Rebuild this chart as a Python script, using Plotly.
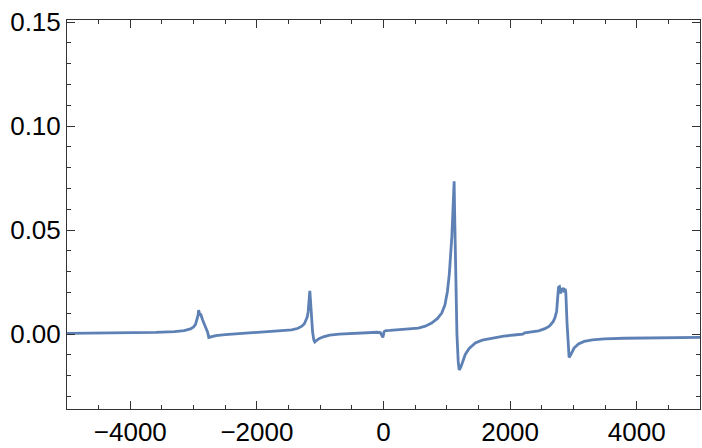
import plotly.graph_objects as go

# Curve samples
x_vals = [-5000, -4500, -4000, -3600, -3300, -3150, -3050, -3000, -2970, -2945, -2930, -2920,
          -2910, -2900, -2890, -2880, -2860, -2840, -2800, -2780, -2760, -2720, -2650, -2500,
          -2200, -1900, -1600, -1450, -1350, -1290, -1250, -1225, -1205, -1190, -1178, -1170,
          -1164, -1155, -1140, -1120, -1100, -1085, -1060, -1020, -950, -850, -700, -500,
          -300, -100, -50, -25, -10, 10, 40, 100, 250, 400, 550, 660, 760, 850, 920, 970,
          1010, 1040, 1060, 1080, 1095, 1108, 1116, 1124, 1140, 1160, 1180, 1195, 1220,
          1260, 1290, 1350, 1450, 1560, 1710, 1900, 2100, 2200, 2230, 2350, 2450, 2550, 2620,
          2680, 2710, 2735, 2752, 2765, 2780, 2800, 2815, 2830, 2845, 2860, 2870, 2880, 2900,
          2918, 2932, 2960, 3010, 3080, 3170, 3300, 3490, 3800, 4200, 4600, 5000]
y_vals = [0.0004, 0.0005, 0.0006, 0.0008, 0.0012, 0.0017, 0.0025, 0.0034, 0.0047, 0.0068, 0.0090, 0.0115,
          0.0100, 0.0090, 0.0098, 0.0085, 0.0070, 0.0055, 0.0030, 0.0010, -0.0016, -0.0012, -0.0007, -0.0002,
          0.0004, 0.0009, 0.0015, 0.0020, 0.0028, 0.0038, 0.0050, 0.0064, 0.0082, 0.0108, 0.0150, 0.0185,
          0.0208, 0.0170, 0.0080, 0.0010, -0.0030, -0.0038, -0.0031, -0.0022, -0.0013, -0.0005, 0.0000, 0.0004,
          0.0007, 0.0009, 0.0007, -0.0012, -0.0016, 0.0012, 0.0017, 0.0018, 0.0021, 0.0024, 0.0029, 0.0038, 0.0053, 0.0074, 0.0101, 0.0140,
          0.0205, 0.0290, 0.0366, 0.0470, 0.0580, 0.0680, 0.0735, 0.0580, 0.0250, 0.0000, -0.0130, -0.0172, -0.0160,
          -0.0125, -0.0099, -0.0070, -0.0043, -0.0029, -0.0019, -0.0010, -0.0003, 0.0000, 0.0006, 0.0010, 0.0016, 0.0026, 0.0038,
          0.0060, 0.0080, 0.0110, 0.0160, 0.0225, 0.0228, 0.0195, 0.0220, 0.0215, 0.0222, 0.0200, 0.0218, 0.0200, 0.0050,
          -0.0080, -0.0112, -0.0098, -0.0067, -0.0047, -0.0035, -0.0028, -0.0023, -0.0020, -0.0018, -0.0017, -0.0016]

x_tick_vals = [-4000, -2000, 0, 2000, 4000]
x_tick_text = ["\u22124000", "\u22122000", "0", "2000", "4000"]
y_tick_vals = [0.00, 0.05, 0.10, 0.15]
y_tick_text = ["0.00", "0.05", "0.10", "0.15"]

fig = go.Figure()
fig.add_trace(go.Scatter(x=x_vals, y=y_vals, mode="lines",
                         line=dict(color="#5E81B5", width=2.8), showlegend=False,
                         hoverinfo="skip"))

frame_col = "#333333"
fnt = dict(family="Liberation Sans, Arial, sans-serif", size=26, color="black")

fig.update_xaxes(range=[-5000, 5000], showgrid=False, zeroline=False,
                 showline=True, linecolor=frame_col, linewidth=1, mirror="allticks",
                 ticks="inside", ticklen=8, tickwidth=1, tickcolor=frame_col,
                 tickvals=x_tick_vals, ticktext=x_tick_text, tickfont=fnt,
                 minor=dict(ticks="inside", ticklen=4, tickwidth=1, tickcolor=frame_col,
                            dtick=500, tick0=0, showgrid=False))
fig.update_yaxes(range=[-0.036, 0.151], showgrid=False, zeroline=False,
                 showline=True, linecolor=frame_col, linewidth=1, mirror="allticks",
                 ticks="inside", ticklen=8, tickwidth=1, tickcolor=frame_col,
                 tickvals=y_tick_vals, ticktext=y_tick_text, tickfont=fnt,
                 minor=dict(ticks="inside", ticklen=4, tickwidth=1, tickcolor=frame_col,
                            dtick=0.01, tick0=0, showgrid=False))

fig.update_layout(width=702, height=448, margin=dict(l=67, r=1, t=20, b=37),
                  plot_bgcolor="white", paper_bgcolor="white")

fig.write_html("out.html")
